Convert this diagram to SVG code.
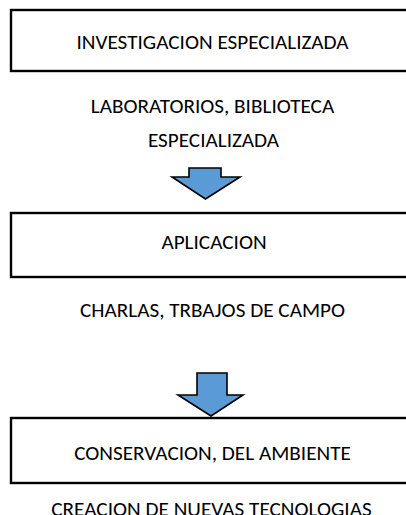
<svg xmlns="http://www.w3.org/2000/svg" width="406" height="515" viewBox="0 0 406 515">
<style>
.box{fill:#fff;stroke:#000;stroke-width:2.4}
.arr{fill:#5B9BD5;stroke:#000;stroke-width:1.6;stroke-linejoin:miter}
text{font-family:Carlito,"Open Sans","Noto Sans",sans-serif;font-size:21.2px;fill:#000;text-anchor:middle}
</style>
<rect width="406" height="515" fill="#fff"/>
<g id="node-investigacion">
<rect class="box" x="11" y="10" width="420" height="61"/>
<text x="212.5" y="49">INVESTIGACION ESPECIALIZADA</text>
</g>
<g id="label-laboratorios">
<text x="212.5" y="113">LABORATORIOS, BIBLIOTECA</text>
<text x="213.5" y="147">ESPECIALIZADA</text>
</g>
<g id="node-aplicacion">
<rect class="box" x="11" y="213" width="420" height="64"/>
<text x="214" y="249">APLICACION</text>
</g>
<g id="label-charlas">
<text x="212.5" y="317">CHARLAS, TRBAJOS DE CAMPO</text>
</g>
<g id="node-conservacion">
<rect class="box" x="11" y="418" width="420" height="65"/>
<text x="212.5" y="459.5">CONSERVACION, DEL AMBIENTE</text>
</g>
<g id="label-creacion">
<text x="211.5" y="516">CREACION DE NUEVAS TECNOLOGIAS</text>
</g>
<g id="connectors">
<polygon class="arr" points="189,168 221,168 221,177 240,177 205.5,199 172,177 189,177"/>
<polygon class="arr" points="197,373 227,373 227,395 243,395 211,416 178,395 197,395"/>
</g>
</svg>
